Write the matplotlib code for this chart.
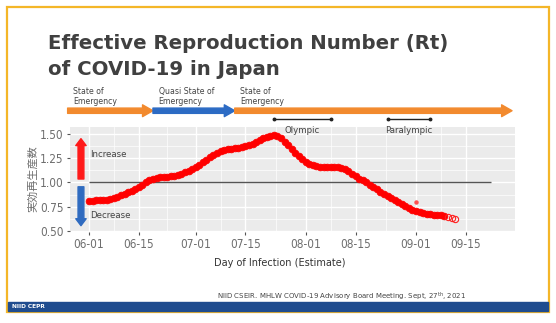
import numpy as np
import pandas as pd
import matplotlib
matplotlib.use("Agg")
import matplotlib.pyplot as plt
import matplotlib.dates as mdates
from matplotlib.patches import Rectangle
from matplotlib.transforms import blended_transform_factory

# daily Rt estimates from 2021-06-01 (filled), then tentative (open)
start = "2021-06-01"
rt_values = [0.81, 0.81, 0.82, 0.82, 0.82, 0.82, 0.83,
             0.84, 0.85, 0.87, 0.88, 0.90, 0.91, 0.93, 0.95, 0.97, 1.00,
             1.02, 1.04, 1.05, 1.06, 1.06, 1.06, 1.07, 1.07, 1.08, 1.09, 1.11,
             1.12, 1.14, 1.16, 1.18, 1.21, 1.23, 1.26, 1.28, 1.30, 1.32, 1.33, 1.34, 1.34,
             1.35, 1.35, 1.36, 1.37, 1.38, 1.40, 1.42, 1.44, 1.46, 1.47, 1.48, 1.49,
             1.48, 1.46, 1.42, 1.38, 1.34, 1.30, 1.27, 1.24, 1.21, 1.19, 1.18, 1.17, 1.16,
             1.16, 1.16, 1.16, 1.16, 1.16, 1.15, 1.14, 1.12, 1.09, 1.07,
             1.04, 1.02, 1.00, 0.97, 0.95, 0.93, 0.90, 0.88, 0.86, 0.84, 0.82, 0.80, 0.78, 0.76, 0.74,
             0.72, 0.71, 0.70, 0.69, 0.68, 0.68, 0.67, 0.66, 0.66, 0.65]
tentative_values = [0.64, 0.63, 0.62]
outlier_date = "2021-09-01"
outlier_value = 0.80

# emergency periods (start, end, label, colour)
periods = [("2021-05-26", "2021-06-19", "State of\nEmergency", "#F28A2E"),
           ("2021-06-19", "2021-07-12", "Quasi State of\nEmergency", "#2C6BC4"),
           ("2021-07-12", "2021-09-28", "State of\nEmergency", "#F28A2E")]
games = [("2021-07-23", "2021-08-08", "Olympic"),
         ("2021-08-24", "2021-09-05", "Paralympic")]

xtick_dates = ["2021-06-01", "2021-06-15", "2021-07-01", "2021-07-15",
               "2021-08-01", "2021-08-15", "2021-09-01", "2021-09-15"]
yticks = [0.50, 0.75, 1.00, 1.25, 1.50]

dates = pd.date_range(start, periods=len(rt_values))
tent_dates = pd.date_range(dates[-1] + pd.Timedelta(days=1), periods=len(tentative_values))

fig = plt.figure(figsize=(5.56, 3.23), dpi=100)
W, H = 556, 323

# frame
fig.patches.append(Rectangle((7 / W, (H - 312) / H), 542 / W, 305 / H,
                             transform=fig.transFigure, fill=False,
                             edgecolor="#F4B628", linewidth=1.6))
fig.patches.append(Rectangle((8 / W, (H - 311) / H), 540 / W, 9 / H,
                             transform=fig.transFigure, color="#1F4C8F"))
fig.text(12 / W, 1 - 306.5 / H, "NIID CEPR", color="white", fontsize=4.2,
         fontweight="bold", va="center")

fig.text(48 / W, 1 - 49 / H, "Effective Reproduction Number (Rt)",
         fontsize=14.2, fontweight="bold", color="#404040", va="baseline")
fig.text(48 / W, 1 - 75 / H, "of COVID-19 in Japan",
         fontsize=14.2, fontweight="bold", color="#404040", va="baseline")

ax = fig.add_axes([70 / W, 1 - 232 / H, 445 / W, 105 / H])
ax.set_facecolor("#EBEBEB")
for s in ax.spines.values():
    s.set_visible(False)

ax.set_xlim(mdates.date2num(pd.Timestamp("2021-05-26 16:00")),
            mdates.date2num(pd.Timestamp("2021-09-28 20:00")))
ax.set_ylim(0.49, 1.57)

ax.set_xticks(pd.to_datetime(xtick_dates))
ax.xaxis.set_major_formatter(mdates.DateFormatter("%m-%d"))
ax.set_xticks(pd.to_datetime(xtick_dates[:-1]) + pd.to_timedelta(
    np.diff(pd.to_datetime(xtick_dates)) / 2), minor=True)
ax.set_yticks(yticks)
ax.set_yticks(np.array(yticks[:-1]) + 0.125, minor=True)
ax.set_yticklabels([f"{v:.2f}" for v in yticks])
ax.grid(which="major", color="white", linewidth=1.0)
ax.grid(which="minor", color="white", linewidth=0.5)
ax.set_axisbelow(True)
ax.tick_params(which="major", length=2.5, width=0.8, color="#555555",
               labelcolor="#6E6E6E", labelsize=8.5, pad=2)
ax.tick_params(which="minor", length=0)
for lab in ax.get_xticklabels() + ax.get_yticklabels():
    lab.set_family(["DejaVu Sans"])
    lab.set_fontstretch("condensed")

ax.hlines(1.0, pd.Timestamp("2021-06-01"), pd.Timestamp("2021-09-22"),
          color="#555555", linewidth=1.0, zorder=2)

ax.plot(dates, rt_values, "o", color="#FF0000", markersize=4.8,
        markeredgewidth=0.6, zorder=3)
ax.plot(tent_dates, tentative_values, "o", markerfacecolor="none",
        markeredgecolor="#FF2020", markersize=4.5, markeredgewidth=0.8, zorder=3)
ax.plot(pd.Timestamp(outlier_date), outlier_value, "o", color="#FF5050",
        markersize=2.2, zorder=3)

# increase / decrease arrows
ax_x = mdates.date2num(pd.Timestamp("2021-05-29 18:00"))
ax.annotate("", xy=(ax_x, 1.45), xytext=(ax_x, 1.035),
            arrowprops=dict(arrowstyle="simple,head_width=0.75,head_length=0.5,tail_width=0.42",
                            color="#FF1A1A", mutation_scale=10, shrinkA=0, shrinkB=0))
ax.annotate("", xy=(ax_x, 0.555), xytext=(ax_x, 0.955),
            arrowprops=dict(arrowstyle="simple,head_width=0.75,head_length=0.5,tail_width=0.42",
                            color="#2F6BC0", mutation_scale=10, shrinkA=0, shrinkB=0))
txt_x = pd.Timestamp("2021-06-01 06:00")
ax.text(txt_x, 1.29, "Increase", fontsize=6.2, color="#444444", va="center")
ax.text(txt_x, 0.66, "Decrease", fontsize=6.2, color="#444444", va="center")

trans = blended_transform_factory(ax.transData, ax.transAxes)

for s, e, label, col in periods:
    x0 = mdates.date2num(pd.Timestamp(s))
    x1 = mdates.date2num(pd.Timestamp(e))
    ax.annotate("", xy=(x1, 1.155), xytext=(x0, 1.155), xycoords=trans,
                textcoords=trans, annotation_clip=False,
                arrowprops=dict(arrowstyle="simple,head_width=0.85,head_length=0.75,tail_width=0.38",
                                color=col, mutation_scale=10, shrinkA=0, shrinkB=0))
    ax.annotate(label, xy=(x0, 1.2), xycoords=trans, xytext=(4, 0),
                textcoords="offset points", fontsize=5.6, color="#444444",
                va="bottom", ha="left", linespacing=1.1, annotation_clip=False)

for s, e, label in games:
    x0 = mdates.date2num(pd.Timestamp(s))
    x1 = mdates.date2num(pd.Timestamp(e))
    ax.plot([x0, x1], [1.076, 1.076], color="#222222", linewidth=1.0,
            transform=trans, clip_on=False, marker="o", markersize=1.8)
    ax.text((x0 + x1) / 2, 0.965, label, transform=trans, fontsize=6.2,
            color="#444444", ha="center", va="center")

fig.text(33 / W, 1 - 179 / H, "実効再生産数", rotation=90, fontsize=8,
         color="#6E6E6E", family=["Noto Sans CJK JP", "DejaVu Sans"],
         ha="center", va="center")

fig.text(280 / W, 1 - 263 / H, "Day of Infection (Estimate)", fontsize=7,
         color="#333333", ha="center", va="center")
fig.text(217 / W, 1 - 297 / H,
         r"NIID CSEIR. MHLW COVID-19 Advisory Board Meeting. Sept, 27$^{\mathrm{th}}$, 2021",
         fontsize=5.0, color="#444444", ha="left", va="center")

fig.savefig("out.png", dpi=100)
